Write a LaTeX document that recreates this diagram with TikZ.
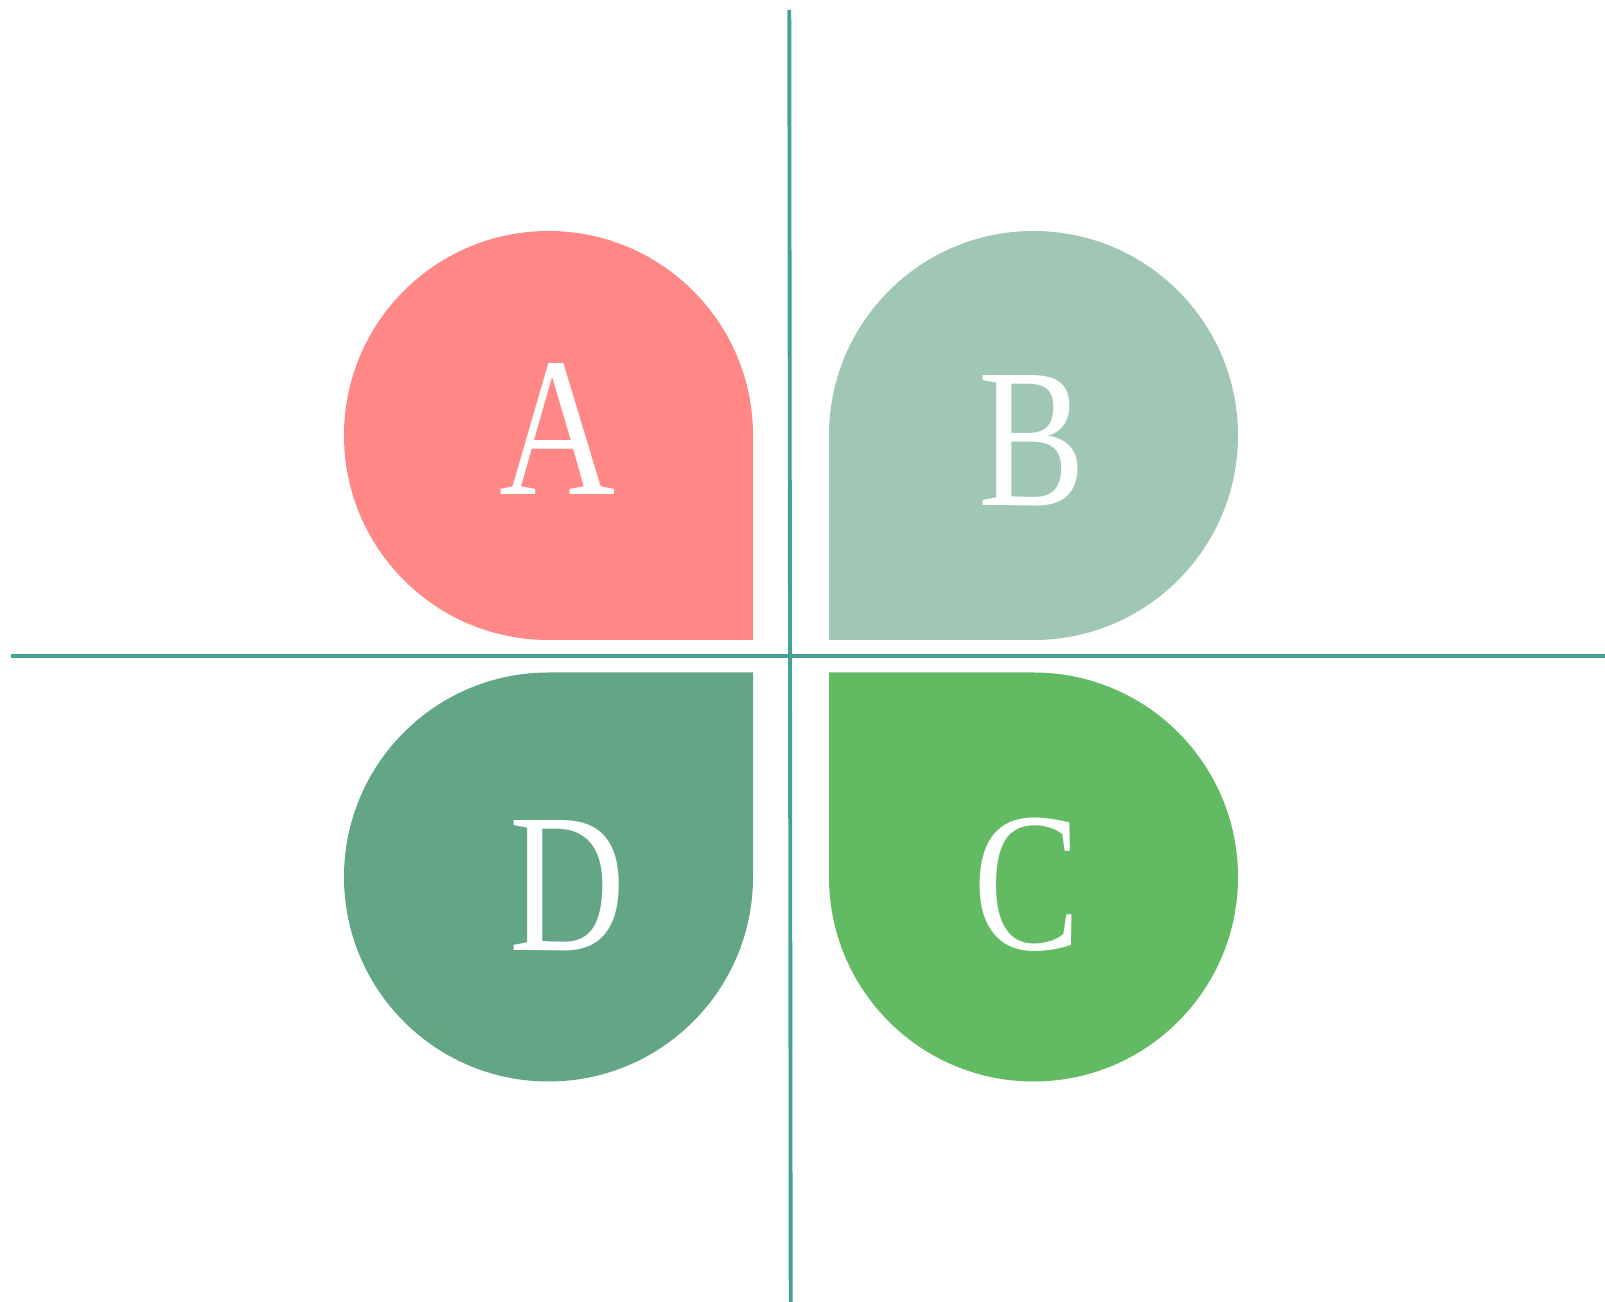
\documentclass[tikz,border=0pt]{standalone}
\usepackage{fontspec}
\setmainfont{Liberation Serif}
\newfontfamily\letterfont[FakeStretch=0.81]{Liberation Serif}
\definecolor{petalA}{RGB}{255,135,133}
\definecolor{petalB}{RGB}{159,199,180}
\definecolor{petalC}{RGB}{98,187,98}
\definecolor{petalD}{RGB}{99,166,134}
\definecolor{axiscol}{RGB}{69,160,150}
\begin{document}
\begin{tikzpicture}[x=0.2mm, y=0.2mm,
        axisline/.style={axiscol, line width=2.2pt},
        letter/.style={white, anchor=base, font=\letterfont\fontsize{113}{113}\selectfont}]
        \useasboundingbox (0,0) rectangle (1605,1302);

        % Petals (square corner pointing to the middle)
        \fill[petalA] (753,662) -- (753,866.5) arc[start angle=0, end angle=270, radius=204.5] -- cycle;
        \fill[petalB] (829,662) -- (829,866.5) arc[start angle=180, end angle=-90, radius=204.5] -- cycle;
        \fill[petalD] (753,629.5) -- (753,425) arc[start angle=0, end angle=-270, radius=204.5] -- cycle;
        \fill[petalC] (829,629.5) -- (829,425) arc[start angle=180, end angle=450, radius=204.5] -- cycle;

        % Letters
        \node[letter] (labA) at (558,807) {A};
        \node[letter] (labB) at (1032,796) {B};
        \node[letter] (labD) at (568,351) {D};
        \node[letter] (labC) at (1027,352) {C};

        % Axes
        \coordinate (top) at (789.3,1292);
        \coordinate (bottom) at (790.7,0);
        \coordinate (left) at (10.7,646.3);
        \coordinate (right) at (1605,646.3);
        \draw[axisline] (top) -- (bottom);
        \draw[axisline] (left) -- (right);
    \end{tikzpicture}
\end{document}
